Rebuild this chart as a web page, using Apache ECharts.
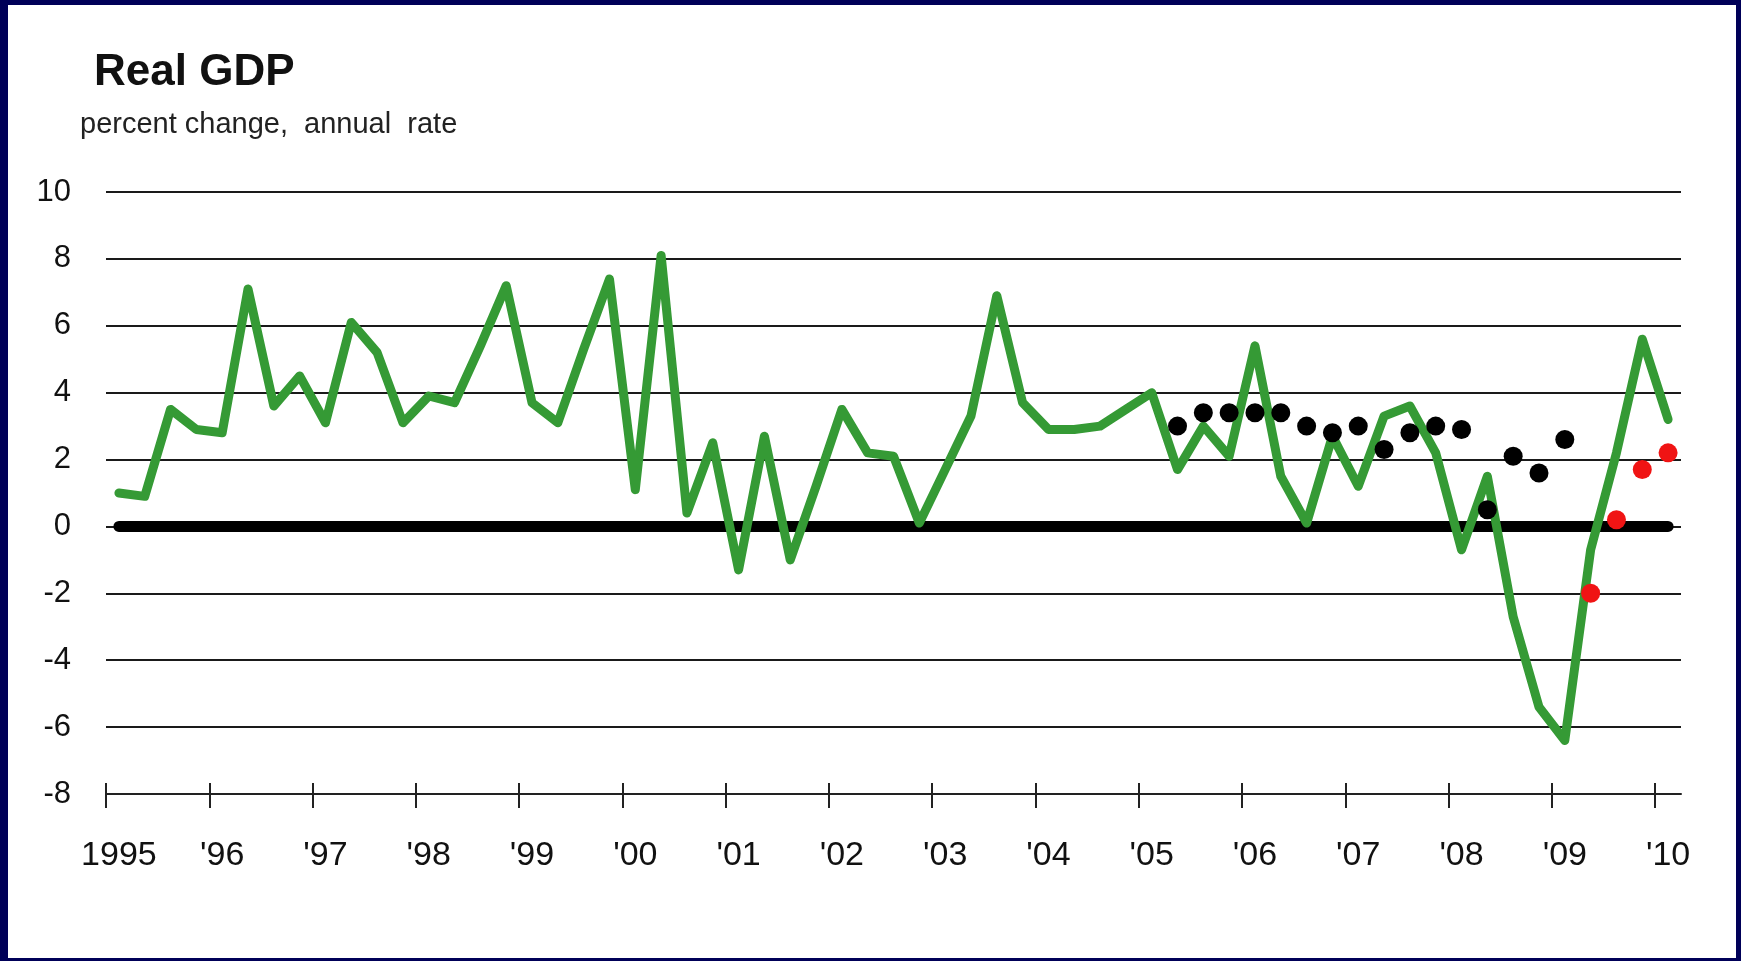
<!DOCTYPE html>
<html>
<head>
<meta charset="utf-8">
<title>Real GDP</title>
<script src="https://cdn.jsdelivr.net/npm/echarts@6/dist/echarts.min.js"></script>
<style>
  html, body { margin: 0; padding: 0; width: 1741px; height: 961px; background: #000058; overflow: hidden; }
  #main { position: absolute; left: 8px; top: 5px; width: 1728px; height: 953px; background: #fff; }
</style>
</head>
<body>
<div id="main"></div>
<script>
// real GDP, percent change at annual rate, 1995Q1 .. 2010Q1
var startYear = 1995;
var gdp = [
  1.0, 0.9, 3.5, 2.9,   2.8, 7.1, 3.6, 4.5,   3.1, 6.1, 5.2, 3.1,
  3.9, 3.7, 5.4, 7.2,   3.7, 3.1, 5.3, 7.4,   1.1, 8.1, 0.4, 2.5,
  -1.3, 2.7, -1.0, 1.2, 3.5, 2.2, 2.1, 0.1,   1.7, 3.3, 6.9, 3.7,
  2.9, 2.9, 3.0, 3.5,   4.0, 1.7, 3.0, 2.1,   5.4, 1.5, 0.1, 2.7,
  1.2, 3.3, 3.6, 2.2,   -0.7, 1.5, -2.7, -5.4, -6.4, -0.7, 2.2, 5.6,
  3.2
];
// black dots
var blackQuarters = ['2005Q2','2005Q3','2005Q4','2006Q1','2006Q2','2006Q3','2006Q4','2007Q1',
                     '2007Q2','2007Q3','2007Q4','2008Q1','2008Q2','2008Q3','2008Q4','2009Q1'];
var blackVals = [3.0, 3.4, 3.4, 3.4, 3.4, 3.0, 2.8, 3.0, 2.3, 2.8, 3.0, 2.9, 0.5, 2.1, 1.6, 2.6];
// red dots
var redQuarters = ['2009Q2','2009Q3','2009Q4','2010Q1'];
var redVals = [-2.0, 0.2, 1.7, 2.2];

var years = [1995,1996,1997,1998,1999,2000,2001,2002,2003,2004,2005,2006,2007,2008,2009,2010];
var yearLabels = ['1995',"'96","'97","'98","'99","'00","'01","'02","'03","'04","'05","'06","'07","'08","'09","'10"];

var FONT = '"Liberation Sans", Arial, sans-serif';

var quarters = [];
for (var i = 0; i < gdp.length; i++) {
  quarters.push((startYear + Math.floor(i / 4)) + 'Q' + (i % 4 + 1));
}
// quarters sit at the middle of their quarter on the time axis
function qx(label) {
  var y = +label.slice(0, 4), q = +label.slice(5);
  return y + (q - 0.5) / 4;
}
function pairs(qs, vals) {
  return qs.map(function (q, i) { return [qx(q), vals[i]]; });
}

var myChart = echarts.init(document.getElementById('main'));
var option = {
  animation: false,
  title: [
    {
      text: 'Real GDP',
      left: 81,
      top: 41,
      textStyle: { fontFamily: FONT, fontSize: 44, fontWeight: 'bold', color: '#111' }
    },
    {
      text: 'percent change,  annual  rate',
      left: 67,
      top: 100,
      textStyle: { fontFamily: FONT, fontSize: 29, fontWeight: 'normal', color: '#222' }
    }
  ],
  grid: { left: 98, top: 187, right: 55, bottom: 164 },
  xAxis: [
    {
      type: 'value',
      min: 1995,
      max: 2010.25,
      position: 'bottom',
      axisLine: { onZero: false, lineStyle: { color: '#222', width: 2 } },
      axisTick: { customValues: years, length: 14, lineStyle: { color: '#222', width: 2 } },
      axisLabel: {
        customValues: years.map(function (y) { return y + 0.125; }),
        formatter: function (v) { return yearLabels[Math.round(v - 0.125 - startYear)]; },
        fontFamily: FONT,
        fontSize: 34,
        color: '#111',
        margin: 45
      },
      splitLine: { show: false }
    },
    {
      // upper half of the crossing ticks
      type: 'value',
      min: 1995,
      max: 2010.25,
      position: 'bottom',
      axisLine: { show: false, onZero: false },
      axisTick: { inside: true, customValues: years, length: 11, lineStyle: { color: '#222', width: 2 } },
      axisLabel: { show: false },
      splitLine: { show: false }
    }
  ],
  yAxis: {
    type: 'value',
    min: -8,
    max: 10,
    interval: 2,
    axisLine: { show: false },
    axisTick: { show: false },
    axisLabel: { fontFamily: FONT, fontSize: 31, color: '#111', margin: 35 },
    splitLine: { show: true, lineStyle: { color: '#1a1a1a', width: 2 } }
  },
  series: [
    {
      name: 'zero',
      type: 'line',
      silent: true,
      symbol: 'none',
      data: [[qx(quarters[0]), 0], [qx(quarters[quarters.length - 1]), 0]],
      lineStyle: { color: '#000', width: 11, cap: 'round' },
      z: 2
    },
    {
      name: 'Real GDP',
      type: 'line',
      symbol: 'none',
      data: pairs(quarters, gdp),
      lineStyle: { color: '#359a35', width: 9, cap: 'round', join: 'round' },
      z: 3
    },
    {
      name: 'black',
      type: 'scatter',
      symbolSize: 19,
      data: pairs(blackQuarters, blackVals),
      itemStyle: { color: '#000', opacity: 1 },
      z: 4
    },
    {
      name: 'red',
      type: 'scatter',
      symbolSize: 19,
      data: pairs(redQuarters, redVals),
      itemStyle: { color: '#f01414', opacity: 1 },
      z: 4
    }
  ]
};
myChart.setOption(option);
</script>
</body>
</html>
